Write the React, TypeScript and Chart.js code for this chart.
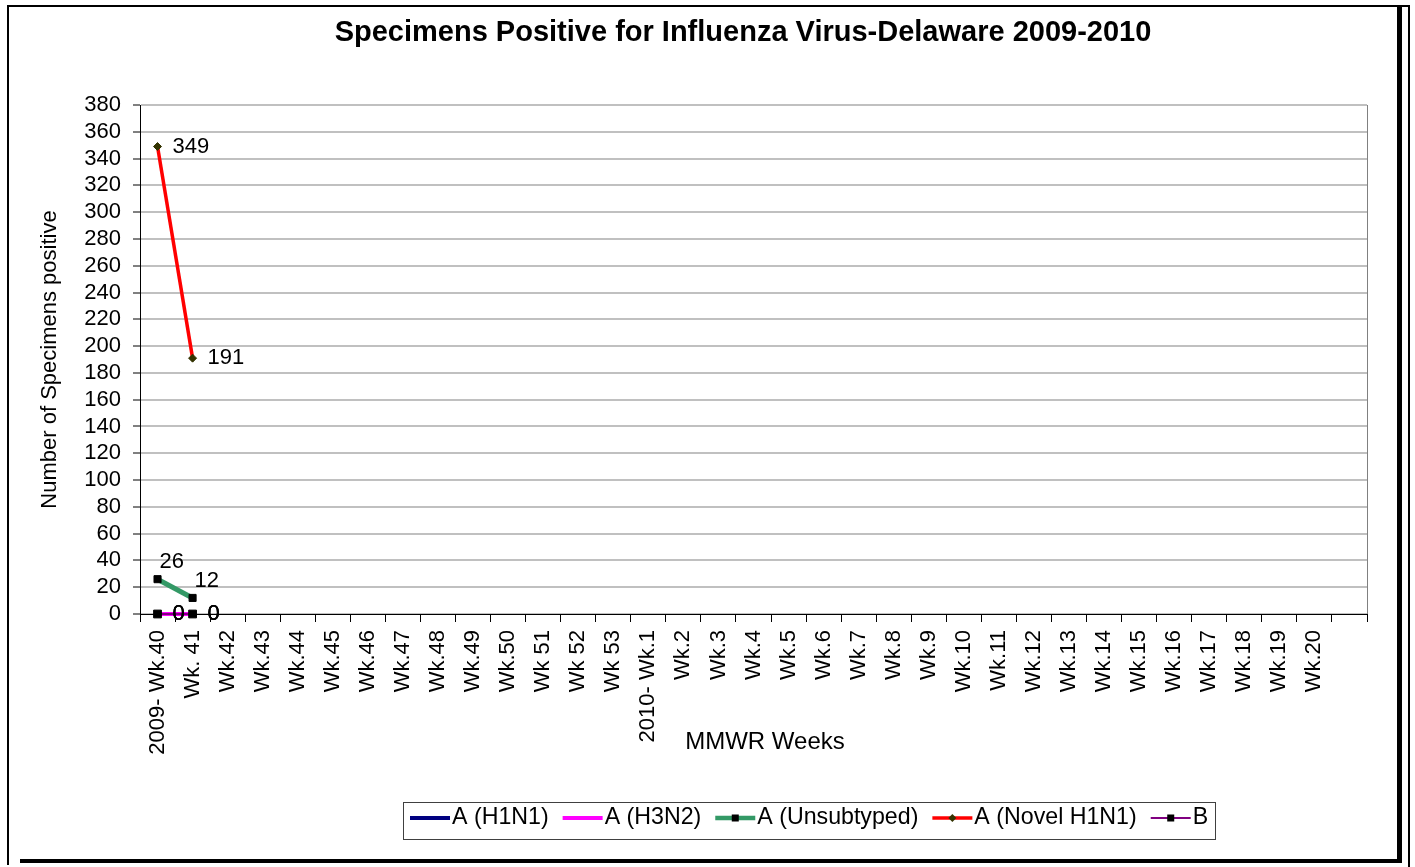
import React, { useEffect, useRef } from 'react';
import { Chart, registerables } from 'chart.js';

Chart.register(...registerables);

const weekLabels = [
  '2009- Wk.40', 'Wk. 41', 'Wk.42', 'Wk.43', 'Wk.44', 'Wk.45', 'Wk.46', 'Wk.47', 'Wk.48', 'Wk.49',
  'Wk.50', 'Wk 51', 'Wk 52', 'Wk 53', '2010- Wk.1', 'Wk.2', 'Wk.3', 'Wk.4', 'Wk.5', 'Wk.6',
  'Wk.7', 'Wk.8', 'Wk.9', 'Wk.10', 'Wk.11', 'Wk.12', 'Wk.13', 'Wk.14', 'Wk.15', 'Wk.16',
  'Wk.17', 'Wk.18', 'Wk.19', 'Wk.20', '',
];

const seriesNames = ['A (H1N1)', 'A (H3N2)', 'A (Unsubtyped)', 'A (Novel H1N1)', 'B'];
const h1n1Values = [0, 0];
const h3n2Values = [0, 0];
const unsubtypedValues = [26, 12];
const novelH1n1Values = [349, 191];
const typeBValues = [0, 0];

const yMin = 0;
const yMax = 380;
const yStep = 20;

const chartTitle = 'Specimens Positive for Influenza Virus-Delaware 2009-2010';
const yTitle = 'Number of Specimens positive';
const xTitle = 'MMWR Weeks';

const FONT = "Arial, 'Liberation Sans', sans-serif";

const decorPlugin = {
  id: 'decor',
  afterDatasetsDraw(chart: any) {
    const ctx = chart.ctx;
    ctx.save();
    chart.data.datasets.forEach((ds: any, i: number) => {
      const meta = chart.getDatasetMeta(i);
      if (!ds.labelPos) return;
      meta.data.forEach((pt: any, j: number) => {
        const v = ds.data[j];
        if (v === null || v === undefined) return;
        ctx.font = `22px ${FONT}`;
        ctx.fillStyle = '#000';
        ctx.textBaseline = 'middle';
        ctx.textAlign = 'left';
        if (ds.labelPos === 'above') {
          ctx.fillText(String(v), pt.x + 2, pt.y - 17);
        } else {
          ctx.fillText(String(v), pt.x + 15, pt.y);
        }
      });
    });
    ctx.restore();
  },
  afterDraw(chart: any) {
    const ctx = chart.ctx;
    const area = chart.chartArea;
    ctx.save();
    ctx.strokeStyle = '#808080';
    ctx.lineWidth = 1;
    ctx.beginPath();
    ctx.moveTo(area.right + 0.5, area.top);
    ctx.lineTo(area.right + 0.5, area.bottom);
    ctx.stroke();

    ctx.fillStyle = '#000';
    ctx.font = `bold 29px ${FONT}`;
    ctx.textAlign = 'center';
    ctx.textBaseline = 'middle';
    ctx.fillText(chartTitle, 743, 33);

    ctx.font = `24px ${FONT}`;
    ctx.fillText(xTitle, 765, 742);

    const boxL = 403, boxT = 802, boxR = 1215, boxB = 839;
    ctx.strokeStyle = '#404040';
    ctx.lineWidth = 1;
    ctx.strokeRect(boxL + 0.5, boxT + 0.5, boxR - boxL, boxB - boxT);
    ctx.font = `23.2px ${FONT}`;
    ctx.textAlign = 'left';
    let x = 410;
    const ly = 818;
    chart.data.datasets.forEach((ds: any) => {
      const lineLen = 40;
      ctx.strokeStyle = ds.borderColor;
      ctx.lineWidth = Math.min(ds.borderWidth, 4.5);
      ctx.beginPath();
      ctx.moveTo(x, ly);
      ctx.lineTo(x + lineLen, ly);
      ctx.stroke();
      const cx = x + lineLen / 2;
      if (ds.pointRadius > 0) {
        ctx.fillStyle = ds.pointBackgroundColor;
        if (ds.pointStyle === 'rectRot') {
          ctx.beginPath();
          ctx.moveTo(cx, ly - 4);
          ctx.lineTo(cx + 4, ly);
          ctx.lineTo(cx, ly + 4);
          ctx.lineTo(cx - 4, ly);
          ctx.closePath();
          ctx.fill();
        } else {
          ctx.fillRect(cx - 3.5, ly - 3.5, 7, 7);
        }
      }
      ctx.fillStyle = '#000';
      ctx.fillText(ds.label, x + lineLen + 2, ly);
      const w = ctx.measureText(ds.label).width;
      x = x + lineLen + 2 + w + 14;
    });

    ctx.fillStyle = '#000';
    ctx.fillRect(7, 5, 1403, 2);
    ctx.fillRect(7, 5, 2, 860);
    ctx.fillRect(1397, 6, 5, 857);
    ctx.fillRect(1408, 5, 2, 862);
    ctx.fillRect(20, 859, 1382, 4);
    ctx.restore();
  },
};

export default function App() {
  const canvasRef = useRef<HTMLCanvasElement | null>(null);

  useEffect(() => {
    const canvas = canvasRef.current;
    if (!canvas) return;
    const chart = new Chart(canvas, {
      type: 'line',
      data: {
        labels: weekLabels,
        datasets: [
          {
            label: seriesNames[0],
            data: h1n1Values,
            borderColor: '#000080',
            backgroundColor: '#000080',
            borderWidth: 4,
            pointRadius: 0,
            pointHoverRadius: 0,
            labelPos: 'right',
            order: 5,
            clip: false,
          } as any,
          {
            label: seriesNames[1],
            data: h3n2Values,
            borderColor: '#FF00FF',
            backgroundColor: '#FF00FF',
            borderWidth: 4,
            pointRadius: 0,
            pointHoverRadius: 0,
            labelPos: 'right',
            order: 4,
            clip: false,
          } as any,
          {
            label: seriesNames[2],
            data: unsubtypedValues,
            borderColor: '#339966',
            backgroundColor: '#339966',
            borderWidth: 5,
            pointStyle: 'rect',
            pointRadius: 5,
            pointBackgroundColor: '#000',
            pointBorderColor: '#000',
            pointBorderWidth: 1,
            labelPos: 'above',
            order: 2,
            clip: false,
          } as any,
          {
            label: seriesNames[3],
            data: novelH1n1Values,
            borderColor: '#FF0000',
            backgroundColor: '#FF0000',
            borderWidth: 3.5,
            pointStyle: 'rectRot',
            pointRadius: 4,
            pointBackgroundColor: '#333300',
            pointBorderColor: '#333300',
            pointBorderWidth: 1,
            labelPos: 'right',
            order: 1,
            clip: false,
          } as any,
          {
            label: seriesNames[4],
            data: typeBValues,
            borderColor: '#800080',
            backgroundColor: '#800080',
            borderWidth: 2,
            pointStyle: 'rect',
            pointRadius: 5.5,
            pointBackgroundColor: '#000',
            pointBorderColor: '#000',
            pointBorderWidth: 1,
            labelPos: 'right',
            order: 3,
            clip: false,
          } as any,
        ],
      },
      options: {
        animation: false,
        responsive: false,
        maintainAspectRatio: false,
        layout: { padding: { left: 0, top: 105, right: 48, bottom: 93 } },
        plugins: {
          legend: { display: false },
          title: { display: false },
          tooltip: { enabled: false },
        },
        scales: {
          x: {
            offset: true,
            grid: {
              offset: true,
              drawOnChartArea: false,
              drawTicks: true,
              tickLength: 8,
              tickColor: '#000',
              color: '#000',
            },
            border: { color: '#000', width: 1 },
            ticks: {
              autoSkip: false,
              maxRotation: 90,
              minRotation: 90,
              padding: 8,
              color: '#000',
              font: { family: FONT, size: 22 },
            },
            afterFit(scale: any) {
              scale.height = 160;
            },
          },
          y: {
            min: yMin,
            max: yMax,
            ticks: {
              stepSize: yStep,
              autoSkip: false,
              color: '#000',
              padding: 12,
              font: { family: FONT, size: 22 },
            },
            grid: {
              color: '#c0c0c0',
              lineWidth: 2,
              tickLength: 7,
              tickColor: '#000',
              tickWidth: 1,
            },
            border: { color: '#000', width: 1 },
            title: {
              display: true,
              text: yTitle,
              color: '#000',
              font: { family: FONT, size: 22 },
              padding: { top: 37, bottom: 0 },
            },
            afterFit(scale: any) {
              scale.width = 140;
            },
          },
        },
      },
      plugins: [decorPlugin],
    });
    return () => chart.destroy();
  }, []);

  return (
    <div style={{ position: 'absolute', left: 0, top: 0, width: 1415, height: 867, background: '#fff' }}>
      <canvas ref={canvasRef} width={1415} height={867} style={{ display: 'block', width: 1415, height: 867 }} />
    </div>
  );
}
